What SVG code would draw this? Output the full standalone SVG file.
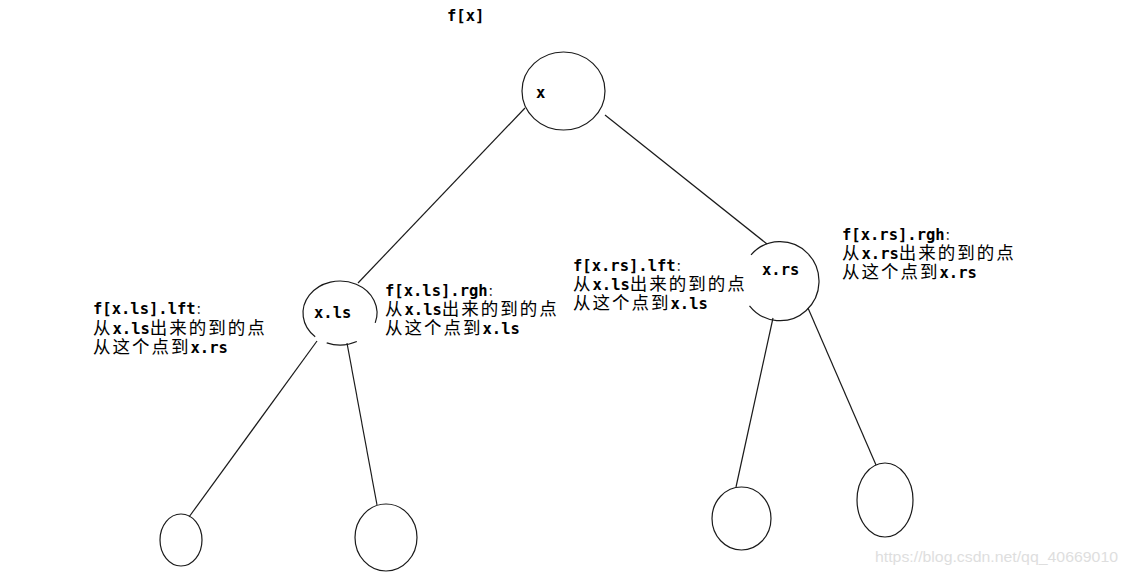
<svg xmlns="http://www.w3.org/2000/svg" width="1128" height="576" viewBox="0 0 1128 576">
<style>
.bg{fill:#ffffff}
.nd{fill:none;stroke:#1a1a1a;stroke-width:1.2}
.ln{fill:none;stroke:#1a1a1a;stroke-width:1.2}
.mo{font-family:"DejaVu Sans Mono","Liberation Mono",monospace;font-weight:bold;font-size:15.5px;fill:#000;letter-spacing:0}
.cj{font-family:"Noto Sans CJK SC","Noto Sans CJK JP",sans-serif;font-weight:normal;font-size:17.5px;letter-spacing:2px;fill:#000}
.cc{font-family:"Noto Sans CJK SC","Noto Sans CJK JP",sans-serif;font-size:12px;fill:#000}
.wm{font-family:"Liberation Sans","Noto Sans",sans-serif;font-size:14.5px;fill:#dedede}
</style>
<rect class="bg" x="0" y="0" width="1128" height="576"/>

<g id="connectors">
  <line class="ln" x1="525" y1="108" x2="358" y2="283"/>
  <line class="ln" x1="605" y1="115" x2="767" y2="244"/>
  <line class="ln" x1="317" y1="341" x2="189" y2="517"/>
  <line class="ln" x1="347" y1="343" x2="377" y2="505"/>
  <line class="ln" x1="773" y1="318" x2="736" y2="487"/>
  <line class="ln" x1="808" y1="308" x2="876" y2="465"/>
</g>

<g id="title">
  <text class="mo" x="447" y="21">f[x]</text>
</g>

<g id="node-x">
  <ellipse class="nd" cx="563.5" cy="91" rx="41.5" ry="39"/>
  <text class="mo" x="536" y="98">x</text>
</g>

<g id="node-xls">
  <path class="nd" d="M 315.2 336.8 A 37 32 0 1 1 375.2 322.9"/>
  <path class="nd" d="M 356.8 341.5 A 37 32 0 0 1 326.7 342.9"/>
  <text class="mo" x="314" y="318">x.ls</text>
</g>

<g id="node-xrs">
  <path class="nd" d="M 751 254.8 A 39 39.5 0 1 1 749.5 305.8"/>
  <text class="mo" x="762" y="275">x.rs</text>
</g>

<g id="leaf-1">
  <ellipse class="nd" cx="181" cy="540" rx="21" ry="26"/>
</g>
<g id="leaf-2">
  <ellipse class="nd" cx="386" cy="537.5" rx="31" ry="33.5"/>
</g>
<g id="leaf-3">
  <ellipse class="nd" cx="741.5" cy="518.5" rx="29.5" ry="31.5"/>
</g>
<g id="leaf-4">
  <ellipse class="nd" cx="885" cy="500" rx="28" ry="37"/>
</g>

<g id="label-xls-lft">
  <text x="93" y="314"><tspan class="mo">f[x.ls].lft</tspan><tspan class="cc">：</tspan></text>
  <text x="93" y="334"><tspan class="cj">从</tspan><tspan class="mo">x.ls</tspan><tspan class="cj">出来的到的点</tspan></text>
  <text x="93" y="353"><tspan class="cj">从这个点到</tspan><tspan class="mo">x.rs</tspan></text>
</g>

<g id="label-xls-rgh">
  <text x="385" y="296"><tspan class="mo">f[x.ls].rgh</tspan><tspan class="cc">：</tspan></text>
  <text x="385" y="315"><tspan class="cj">从</tspan><tspan class="mo">x.ls</tspan><tspan class="cj">出来的到的点</tspan></text>
  <text x="385" y="334"><tspan class="cj">从这个点到</tspan><tspan class="mo">x.ls</tspan></text>
</g>

<g id="label-xrs-lft">
  <text x="573" y="271"><tspan class="mo">f[x.rs].lft</tspan><tspan class="cc">：</tspan></text>
  <text x="573" y="290"><tspan class="cj">从</tspan><tspan class="mo">x.ls</tspan><tspan class="cj">出来的到的点</tspan></text>
  <text x="573" y="309"><tspan class="cj">从这个点到</tspan><tspan class="mo">x.ls</tspan></text>
</g>

<g id="label-xrs-rgh">
  <text x="842" y="240"><tspan class="mo">f[x.rs].rgh</tspan><tspan class="cc">：</tspan></text>
  <text x="842" y="259"><tspan class="cj">从</tspan><tspan class="mo">x.rs</tspan><tspan class="cj">出来的到的点</tspan></text>
  <text x="842" y="278"><tspan class="cj">从这个点到</tspan><tspan class="mo">x.rs</tspan></text>
</g>

<text class="wm" x="875" y="562" textLength="243" lengthAdjust="spacingAndGlyphs">https://blog.csdn.net/qq_40669010</text>
</svg>
